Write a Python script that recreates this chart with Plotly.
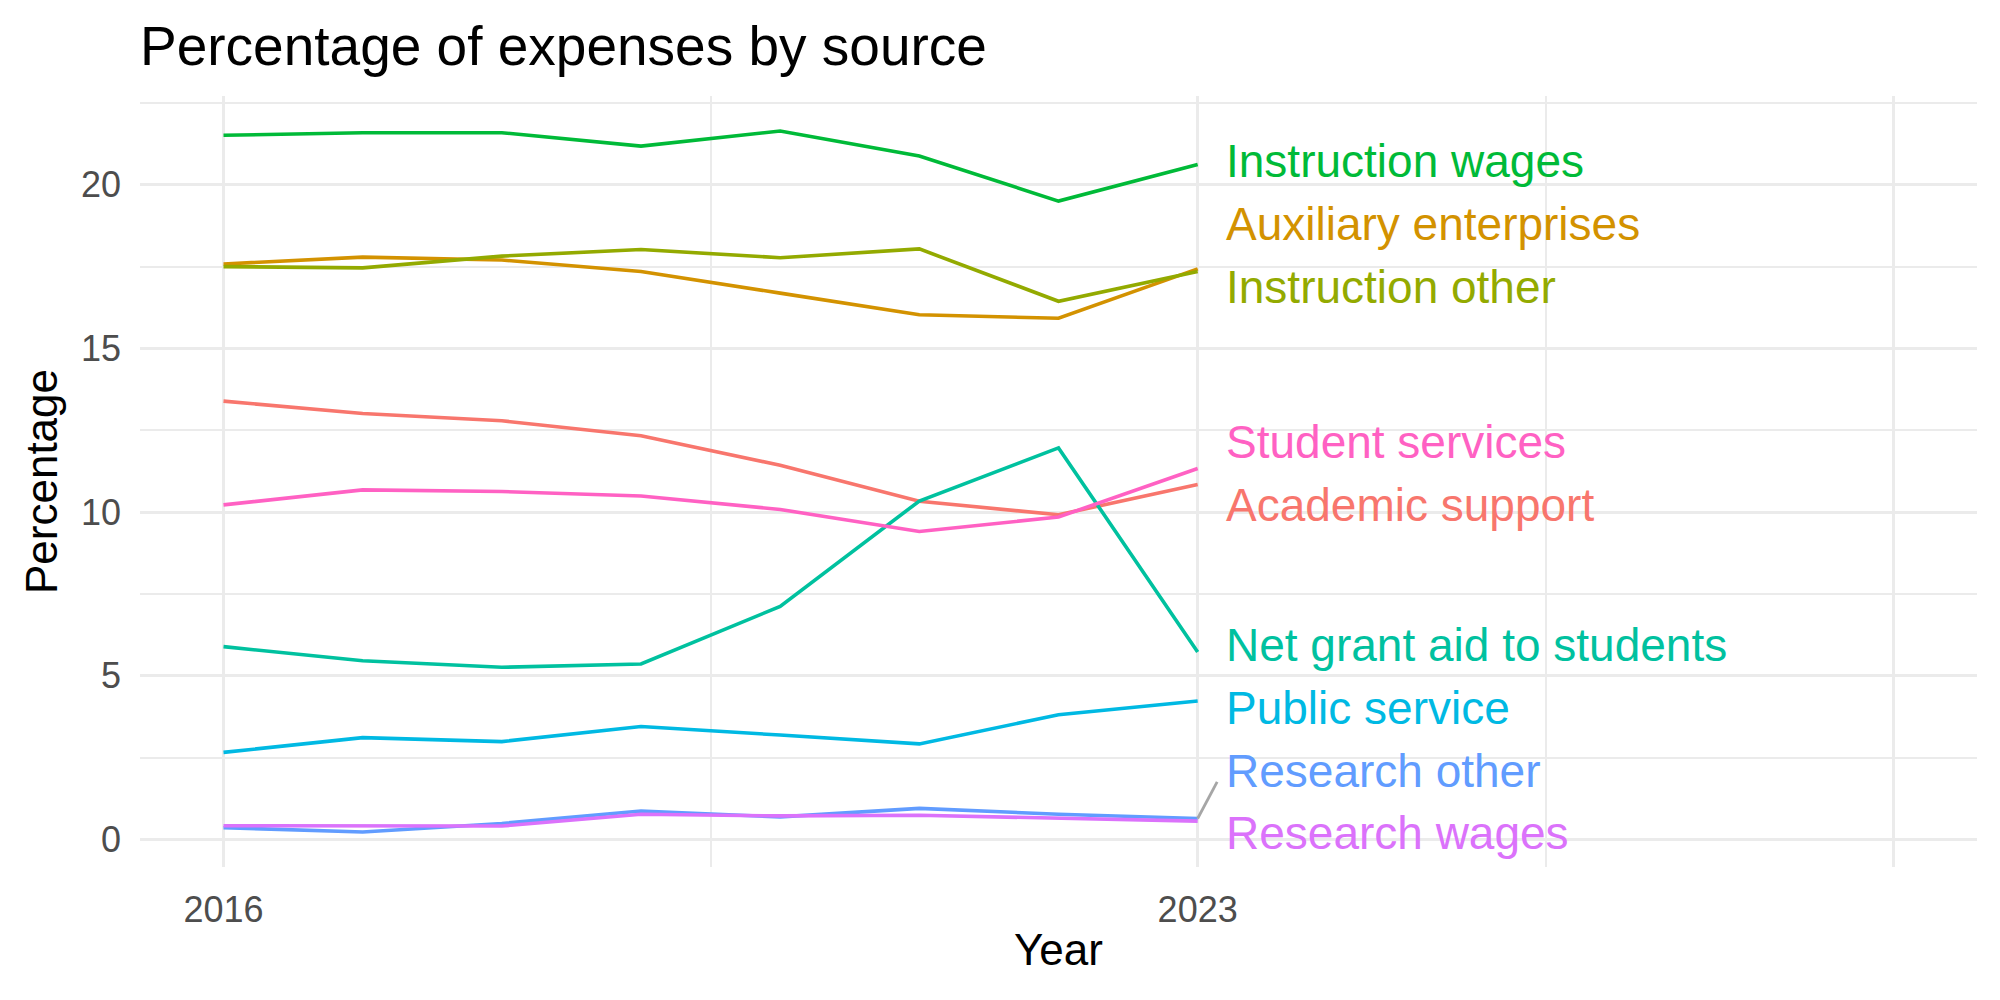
import plotly.graph_objects as go

years = [2016, 2017, 2018, 2019, 2020, 2021, 2022, 2023]

academic_support = [13.39, 13.01, 12.79, 12.33, 11.43, 10.33, 9.92, 10.84]
auxiliary_enterprises = [17.58, 17.79, 17.70, 17.35, 16.69, 16.03, 15.92, 17.43]
instruction_other = [17.50, 17.46, 17.82, 18.02, 17.77, 18.04, 16.44, 17.35]
instruction_wages = [21.51, 21.59, 21.59, 21.18, 21.64, 20.88, 19.50, 20.62]
net_grant_aid = [5.89, 5.46, 5.26, 5.36, 7.12, 10.34, 11.96, 5.73]
public_service = [2.66, 3.11, 2.99, 3.45, 3.19, 2.92, 3.81, 4.23]
research_other = [0.36, 0.23, 0.49, 0.87, 0.69, 0.95, 0.77, 0.64]
research_wages = [0.42, 0.41, 0.41, 0.77, 0.72, 0.74, 0.64, 0.56]
student_services = [10.22, 10.68, 10.63, 10.49, 10.08, 9.41, 9.85, 11.33]

series_names = ["Academic support", "Auxiliary enterprises", "Instruction other",
                "Instruction wages", "Net grant aid to students", "Public service",
                "Research other", "Research wages", "Student services"]
series_values = [academic_support, auxiliary_enterprises, instruction_other,
                 instruction_wages, net_grant_aid, public_service,
                 research_other, research_wages, student_services]
series_colors = ["#F8766D", "#D39200", "#93AA00", "#00BA38", "#00C19F",
                 "#00B9E3", "#619CFF", "#DB72FB", "#FF61C3"]

# repelled label positions (y) and label x
label_x = 2023.19
label_y = [10.21, 18.80, 16.88, 20.74, 5.94, 4.02, 2.10, 0.19, 12.14]
# connector segment for "Research other"
seg_end = (2023.14, 1.76)

x_limits = [2016, 2028]
x_tick_vals = [2016, 2023, 2028]
x_tick_text = ["2016", "2023", ""]
x_minor_vals = [2019.5, 2025.5]
y_tick_vals = [0, 5, 10, 15, 20]
y_minor_vals = [2.5, 7.5, 12.5, 17.5, 22.5]

FONT = "Liberation Sans, Arial, sans-serif"
GRID = "#EBEBEB"

fig = go.Figure()
for name, vals, col in zip(series_names, series_values, series_colors):
    fig.add_trace(go.Scatter(x=years, y=vals, mode="lines", name=name,
                             line=dict(color=col, width=3.6), showlegend=False))

# connector segment
ro_idx = series_names.index("Research other")
fig.add_trace(go.Scatter(x=[years[-1], seg_end[0]], y=[series_values[ro_idx][-1], seg_end[1]],
                         mode="lines", line=dict(color="#A6A6A6", width=2.8),
                         showlegend=False, hoverinfo="skip"))

for name, ly, col in zip(series_names, label_y, series_colors):
    fig.add_annotation(x=label_x, y=ly, text=name, showarrow=False,
                       xanchor="left", yanchor="middle",
                       font=dict(family=FONT, size=46, color=col))

all_vals = [v for s in series_values for v in s]
ymin, ymax = min(all_vals), max(all_vals)
ypad = (ymax - ymin) * 0.05
xpad = (x_limits[1] - x_limits[0]) * 0.05

fig.update_layout(
    width=2000, height=1000,
    margin=dict(l=140, r=23, t=96, b=133),
    paper_bgcolor="white", plot_bgcolor="white",
    title=dict(text="Percentage of expenses by source", x=0.07, xref="container",
               xanchor="left", y=1 - 46 / 1000, yanchor="middle", yref="container",
               font=dict(family=FONT, size=55, color="black")),
    font=dict(family=FONT),
)

fig.update_xaxes(
    range=[x_limits[0] - xpad, x_limits[1] + xpad],
    tickvals=x_tick_vals, ticktext=x_tick_text,
    showgrid=True, gridcolor=GRID, gridwidth=3,
    minor=dict(tickvals=x_minor_vals, showgrid=True, gridcolor=GRID, gridwidth=1.6),
    zeroline=False, showline=False, ticks="",
    tickfont=dict(family=FONT, size=36, color="#4D4D4D"),
    ticklabelstandoff=18,
    title=dict(text="Year", font=dict(family=FONT, size=44, color="black"), standoff=5),
)
fig.update_yaxes(
    range=[ymin - ypad, ymax + ypad],
    tickvals=y_tick_vals,
    showgrid=True, gridcolor=GRID, gridwidth=3,
    minor=dict(tickvals=y_minor_vals, showgrid=True, gridcolor=GRID, gridwidth=1.6),
    zeroline=False, showline=False, ticks="",
    tickfont=dict(family=FONT, size=36, color="#4D4D4D"),
    ticklabelstandoff=18,
    title=dict(text="Percentage", font=dict(family=FONT, size=44, color="black"), standoff=9),
)

fig.write_html("out.html")
